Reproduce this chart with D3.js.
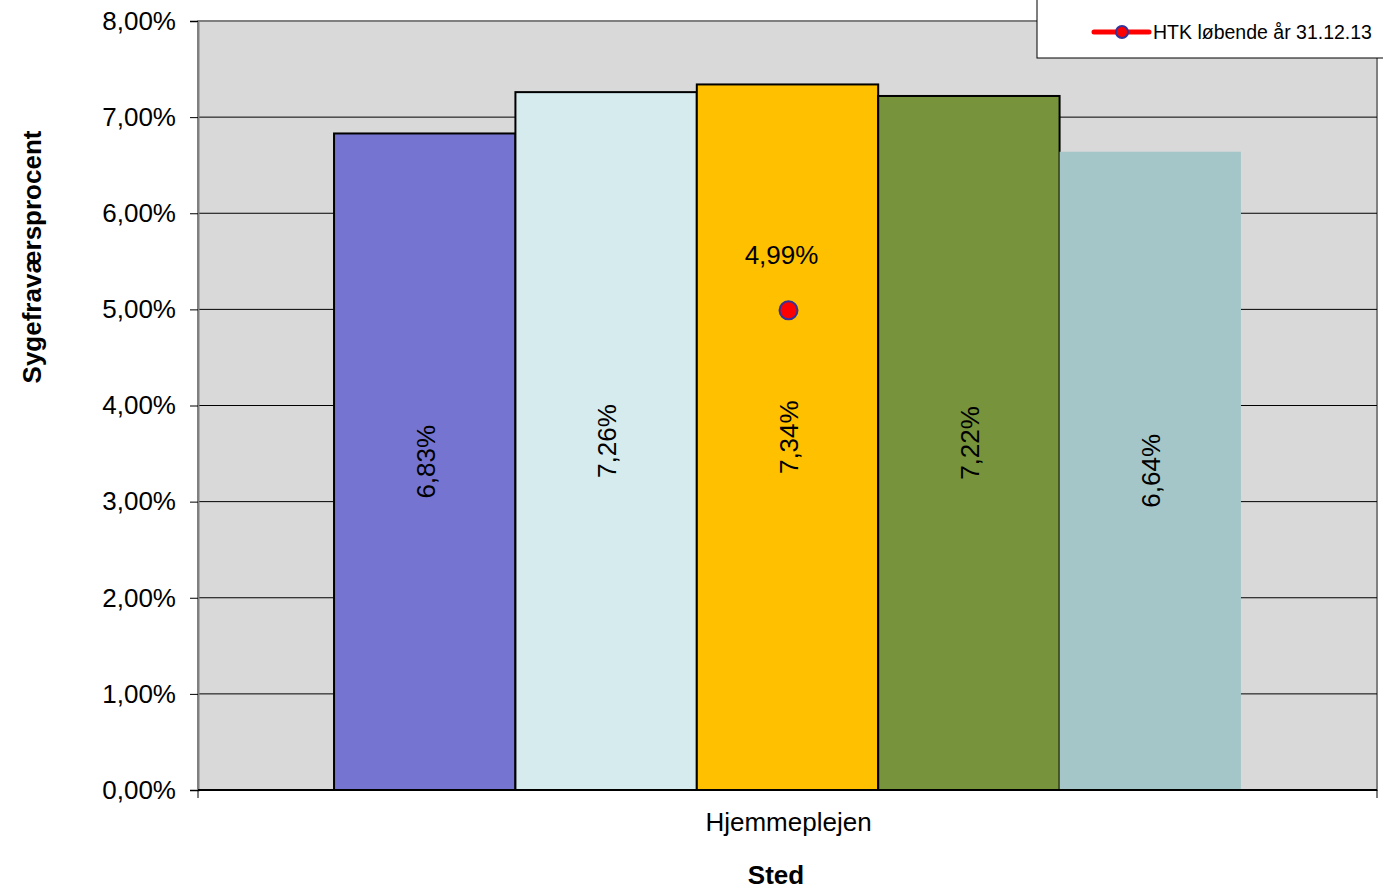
<!DOCTYPE html>
<html><head><meta charset="utf-8">
<script src="https://cdn.jsdelivr.net/npm/d3@7/dist/d3.min.js"></script>
<style>body{margin:0;background:#fff}svg{display:block;font-family:"Liberation Sans",Arial,sans-serif}</style>
</head><body>
<svg id="c" width="1383" height="894"></svg>
<script>
const categories = ["Hjemmeplejen"];
const seriesNames = ["Serie 1", "Serie 2", "Serie 3", "Serie 4", "Serie 5"];
const seriesValues = [6.83, 7.26, 7.34, 7.22, 6.64];
const seriesColors = ["#7575D1", "#D6EBEE", "#FFC000", "#77933C", "#A5C6C8"];
const seriesStroked = [true, true, true, true, false];
const lineName = "HTK løbende år 31.12.13";
const lineValues = [4.99];
const yTicks = [0, 1, 2, 3, 4, 5, 6, 7, 8];

const svg = d3.select("#c");
const m = {l: 198, r: 1377, t: 21, b: 790};
const x = d3.scaleBand().domain(categories).range([m.l, m.r]).padding(0);
const xs = d3.scaleBand().domain(seriesNames).range([0, x.bandwidth()]).paddingInner(0).paddingOuter(0.75);
const y = d3.scaleLinear().domain([0, 8]).range([m.b, m.t]);
const fmt = v => d3.format(".2f")(v).replace(".", ",") + "%";

// plot background
svg.append("rect").attr("x", m.l).attr("y", m.t).attr("width", m.r - m.l).attr("height", m.b - m.t)
  .attr("fill", "#D9D9D9").attr("stroke", "#808080").attr("stroke-width", 2);

// gridlines
svg.append("g").selectAll("line").data(yTicks.filter(t => t > 0 && t < 8)).join("line")
  .attr("x1", m.l).attr("x2", m.r).attr("y1", d => y(d)).attr("y2", d => y(d))
  .attr("stroke", "#000").attr("stroke-width", 1);

// y axis
const yAxis = d3.axisLeft(y).tickValues(yTicks).tickFormat(fmt).tickSize(8).tickPadding(14);
const gy = svg.append("g").attr("transform", `translate(${m.l},0)`).call(yAxis);
gy.select(".domain").attr("stroke", "#808080").attr("stroke-width", 2);
gy.selectAll(".tick line").attr("stroke", "#000");
gy.selectAll(".tick text").attr("font-size", 26).attr("fill", "#000").attr("font-family", "Liberation Sans, Arial, sans-serif");

// bars
const bars = svg.append("g");
categories.forEach(cat => {
  const data = seriesNames.map((s, i) => ({s, v: seriesValues[i], c: seriesColors[i], st: seriesStroked[i]}));
  bars.selectAll("rect.b").data(data).join("rect").attr("class", "b")
    .attr("x", d => x(cat) + xs(d.s)).attr("width", xs.bandwidth())
    .attr("y", d => y(d.v)).attr("height", d => y(0) - y(d.v))
    .attr("fill", d => d.c).attr("stroke", d => d.st ? "#000" : "none").attr("stroke-width", 2);
  bars.selectAll("text.l").data(data).join("text").attr("class", "l")
    .attr("transform", d => `translate(${x(cat) + xs(d.s) + xs.bandwidth() / 2 + 10},${(y(d.v) + y(0)) / 2}) rotate(-90)`)
    .attr("text-anchor", "middle").attr("font-size", 26).attr("fill", "#000")
    .text(d => fmt(d.v));
});

// x axis
svg.append("line").attr("x1", m.l).attr("x2", m.r).attr("y1", m.b).attr("y2", m.b).attr("stroke", "#000").attr("stroke-width", 2);
const xTicksPos = [x(categories[0]), x(categories[0]) + x.bandwidth()];
svg.append("g").selectAll("line").data(xTicksPos).join("line")
  .attr("x1", d => d).attr("x2", d => d).attr("y1", m.b).attr("y2", m.b + 8).attr("stroke", "#000");
svg.append("g").selectAll("text").data(categories).join("text")
  .attr("x", d => x(d) + x.bandwidth() / 2 + 1).attr("y", 831).attr("text-anchor", "middle")
  .attr("font-size", 26).attr("fill", "#000").text(d => d);

// line series
const lineX = x(categories[0]) + x.bandwidth() / 2 + 1;
svg.append("g").selectAll("circle").data(lineValues).join("circle")
  .attr("cx", lineX).attr("cy", d => y(d)).attr("r", 9)
  .attr("fill", "#FF0000").attr("stroke", "#333399").attr("stroke-width", 2);
svg.append("g").selectAll("text").data(lineValues).join("text")
  .attr("x", lineX - 7).attr("y", d => y(d) - 46).attr("text-anchor", "middle")
  .attr("font-size", 26).attr("fill", "#000").text(d => fmt(d));

// axis titles
svg.append("text").attr("x", 776).attr("y", 884).attr("text-anchor", "middle")
  .attr("font-size", 26).attr("font-weight", "bold").text("Sted");
svg.append("text").attr("transform", "translate(41,257) rotate(-90)").attr("text-anchor", "middle")
  .attr("font-size", 26).attr("font-weight", "bold").text("Sygefraværsprocent");

// legend
const lg = svg.append("g");
lg.append("rect").attr("x", 1037).attr("y", -2).attr("width", 360).attr("height", 60)
  .attr("fill", "#fff").attr("stroke", "#000").attr("stroke-width", 1);
lg.append("line").attr("x1", 1094).attr("x2", 1149).attr("y1", 32).attr("y2", 32)
  .attr("stroke", "#FF0000").attr("stroke-width", 5).attr("stroke-linecap", "round");
lg.append("circle").attr("cx", 1122).attr("cy", 32).attr("r", 6)
  .attr("fill", "#FF0000").attr("stroke", "#333399").attr("stroke-width", 2);
lg.append("text").attr("x", 1153).attr("y", 39).attr("font-size", 19.5).attr("fill", "#000").text(lineName);
</script>
</body></html>
